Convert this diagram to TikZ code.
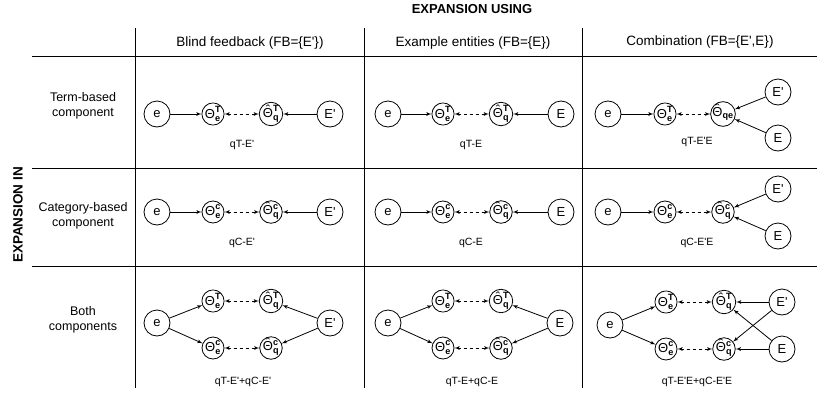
\documentclass[tikz,border=0pt]{standalone}
\usepackage{amsmath}
\usepackage{fontspec}
\setmainfont{Liberation Sans}[Ligatures=TeXOff]
\usetikzlibrary{positioning,shapes,arrows}
\tikzstyle{obs} = [draw, circle, minimum size=26pt, inner sep=0pt, font=\fontsize{13}{15}\selectfont]
\tikzstyle{param} = [draw, circle, minimum size=22pt, inner sep=0pt, font=\fontsize{13}{15}\selectfont]
\tikzstyle{line} = [draw, -latex']
\tikzstyle{link} = [draw, dashed, latex'-latex']
\tikzstyle{grid} = [draw, line width=0.9pt]
\tikzstyle{model} = [font=\fontsize{10.5}{12}\selectfont]
\tikzstyle{head} = [font=\fontsize{13.5}{16}\selectfont]
\tikzstyle{rowhead} = [align=center, font=\fontsize{12.5}{15}\selectfont]
\tikzstyle{title} = [font=\bfseries\fontsize{13}{15}\selectfont]
\newcommand{\hatTheta}{\ooalign{Θ\cr\hidewidth\smash{\raisebox{0.24em}{ˆ}}\hidewidth\cr}}
\newcommand{\thE}[1]{$\text{Θ}^{\textbf{#1}}_{\textbf{e}}$}
\newcommand{\thQ}[1]{$\text{\hatTheta}^{\textbf{#1}}_{\textbf{q}}$}

\begin{document}
\begin{tikzpicture}[x=1pt, y=-1pt, line width=0.8pt, node distance=58pt]
    \useasboundingbox (0,0) rectangle (817,394);
    % Table
    \path [grid] (32,56) -- (817,56);
    \path [grid] (32,168) -- (817,168);
    \path [grid] (32,266) -- (817,266);
    \path [grid] (135,28) -- (135,388);
    \path [grid] (364,28) -- (364,388);
    \path [grid] (582,28) -- (582,388);
    \node [title] (using) at (472,9) {EXPANSION USING};
    \node [title, font=\bfseries\fontsize{13.5}{15}\selectfont, rotate=90] (in) at (18,215) {EXPANSION IN};
    \node [head] (h-blind) at (250,43) {Blind feedback (FB=\{E'\})};
    \node [head] (h-example) at (473,43) {Example entities (FB=\{E\})};
    \node [head] (h-comb) at (700,42) {Combination (FB=\{E',E\})};
    \node [rowhead] (r-term) at (83,106) {Term-based\\component};
    \node [rowhead] (r-cat) at (83,216) {Category-based\\component};
    \node [rowhead] (r-both) at (83,320) {Both\\components};
    % Term-based, blind feedback
    \node [obs] (e-bt) at (157,114) {e};
    \node [param, right of=e-bt, node distance=56pt] (te-bt) {\thE{T}};
    \node [param, right of=te-bt] (tq-bt) {\thQ{T}};
    \node [obs, right of=tq-bt, node distance=59pt] (f-bt) {E'};
    \node [model] (m-bt) at (242,145) {qT-E'};
    % Term-based, example entities
    \node [obs] (e-xt) at (388,114) {e};
    \node [param, right of=e-xt, node distance=55pt] (te-xt) {\thE{T}};
    \node [param, right of=te-xt] (tq-xt) {\thQ{T}};
    \node [obs, right of=tq-xt, node distance=60pt] (f-xt) {E};
    \node [model] (m-xt) at (471,145) {qT-E};
    % Term-based, combination
    \node [obs] (e-ct) at (608,114) {e};
    \node [param, right of=e-ct, node distance=57pt] (te-ct) {\thE{T}};
    \node [param, right of=te-ct] (tq-ct) {$\text{\hatTheta}_{\textbf{qe}}$};
    \node [obs] (f-ct) at (778,92) {E'};
    \node [obs] (g-ct) at (778,138) {E};
    \node [model] (m-ct) at (697,142) {qT-E'E};
    % Category-based, blind feedback
    \node [obs] (e-bc) at (157,212) {e};
    \node [param, right of=e-bc, node distance=56pt] (te-bc) {\thE{c}};
    \node [param, right of=te-bc] (tq-bc) {\thQ{c}};
    \node [obs, right of=tq-bc, node distance=59pt] (f-bc) {E'};
    \node [model] (m-bc) at (242,243) {qC-E'};
    % Category-based, example entities
    \node [obs] (e-xc) at (388,212) {e};
    \node [param, right of=e-xc, node distance=55pt] (te-xc) {\thE{c}};
    \node [param, right of=te-xc] (tq-xc) {\thQ{c}};
    \node [obs, right of=tq-xc, node distance=60pt] (f-xc) {E};
    \node [model] (m-xc) at (471,243) {qC-E};
    % Category-based, combination
    \node [obs] (e-cc) at (608,212) {e};
    \node [param, right of=e-cc, node distance=57pt] (te-cc) {\thE{c}};
    \node [param, right of=te-cc] (tq-cc) {\thQ{c}};
    \node [obs] (f-cc) at (778,189) {E'};
    \node [obs] (g-cc) at (778,236) {E};
    \node [model] (m-cc) at (697,243) {qC-E'E};
    % Both components, blind feedback
    \node [obs] (e-bb) at (157,323) {e};
    \node [param] (te-bb) at (213,301) {\thE{T}};
    \node [param] (ce-bb) at (213,348) {\thE{c}};
    \node [param, right of=te-bb] (tq-bb) {\thQ{T}};
    \node [param, right of=ce-bb] (cq-bb) {\thQ{c}};
    \node [obs] (f-bb) at (330,323) {E'};
    \node [model] (m-bb) at (243,382) {qT-E'+qC-E'};
    % Both components, example entities
    \node [obs] (e-xb) at (388,323) {e};
    \node [param] (te-xb) at (443,301) {\thE{T}};
    \node [param] (ce-xb) at (443,348) {\thE{c}};
    \node [param, right of=te-xb] (tq-xb) {\thQ{T}};
    \node [param, right of=ce-xb] (cq-xb) {\thQ{c}};
    \node [obs] (f-xb) at (560,323) {E};
    \node [model] (m-xb) at (472,382) {qT-E+qC-E};
    % Both components, combination
    \node [obs] (e-cb) at (610,325) {e};
    \node [param] (te-cb) at (666,302) {\thE{T}};
    \node [param] (ce-cb) at (666,349) {\thE{c}};
    \node [param, right of=te-cb] (tq-cb) {\thQ{T}};
    \node [param, right of=ce-cb] (cq-cb) {\thQ{c}};
    \node [obs] (f-cb) at (782,302) {E'};
    \node [obs] (g-cb) at (782,349) {E};
    \node [model] (m-cb) at (697,382) {qT-E'E+qC-E'E};
    % Draw edges
    \path [line] (e-bt) -- (te-bt);
    \path [link] (te-bt) -- (tq-bt);
    \path [line] (f-bt) -- (tq-bt);
    \path [line] (e-xt) -- (te-xt);
    \path [link] (te-xt) -- (tq-xt);
    \path [line] (f-xt) -- (tq-xt);
    \path [line] (e-ct) -- (te-ct);
    \path [link] (te-ct) -- (tq-ct);
    \path [line] (f-ct) -- (tq-ct);
    \path [line] (g-ct) -- (tq-ct);
    \path [line] (e-bc) -- (te-bc);
    \path [link] (te-bc) -- (tq-bc);
    \path [line] (f-bc) -- (tq-bc);
    \path [line] (e-xc) -- (te-xc);
    \path [link] (te-xc) -- (tq-xc);
    \path [line] (f-xc) -- (tq-xc);
    \path [line] (e-cc) -- (te-cc);
    \path [link] (te-cc) -- (tq-cc);
    \path [line] (f-cc) -- (tq-cc);
    \path [line] (g-cc) -- (tq-cc);
    \path [line] (e-bb) -- (te-bb);
    \path [line] (e-bb) -- (ce-bb);
    \path [link] (te-bb) -- (tq-bb);
    \path [link] (ce-bb) -- (cq-bb);
    \path [line] (f-bb) -- (tq-bb);
    \path [line] (f-bb) -- (cq-bb);
    \path [line] (e-xb) -- (te-xb);
    \path [line] (e-xb) -- (ce-xb);
    \path [link] (te-xb) -- (tq-xb);
    \path [link] (ce-xb) -- (cq-xb);
    \path [line] (f-xb) -- (tq-xb);
    \path [line] (f-xb) -- (cq-xb);
    \path [line] (e-cb) -- (te-cb);
    \path [line] (e-cb) -- (ce-cb);
    \path [link] (te-cb) -- (tq-cb);
    \path [link] (ce-cb) -- (cq-cb);
    \path [line] (f-cb) -- (tq-cb);
    \path [line] (f-cb) -- (cq-cb);
    \path [line] (g-cb) -- (tq-cb);
    \path [line] (g-cb) -- (cq-cb);
\end{tikzpicture}
\end{document}
